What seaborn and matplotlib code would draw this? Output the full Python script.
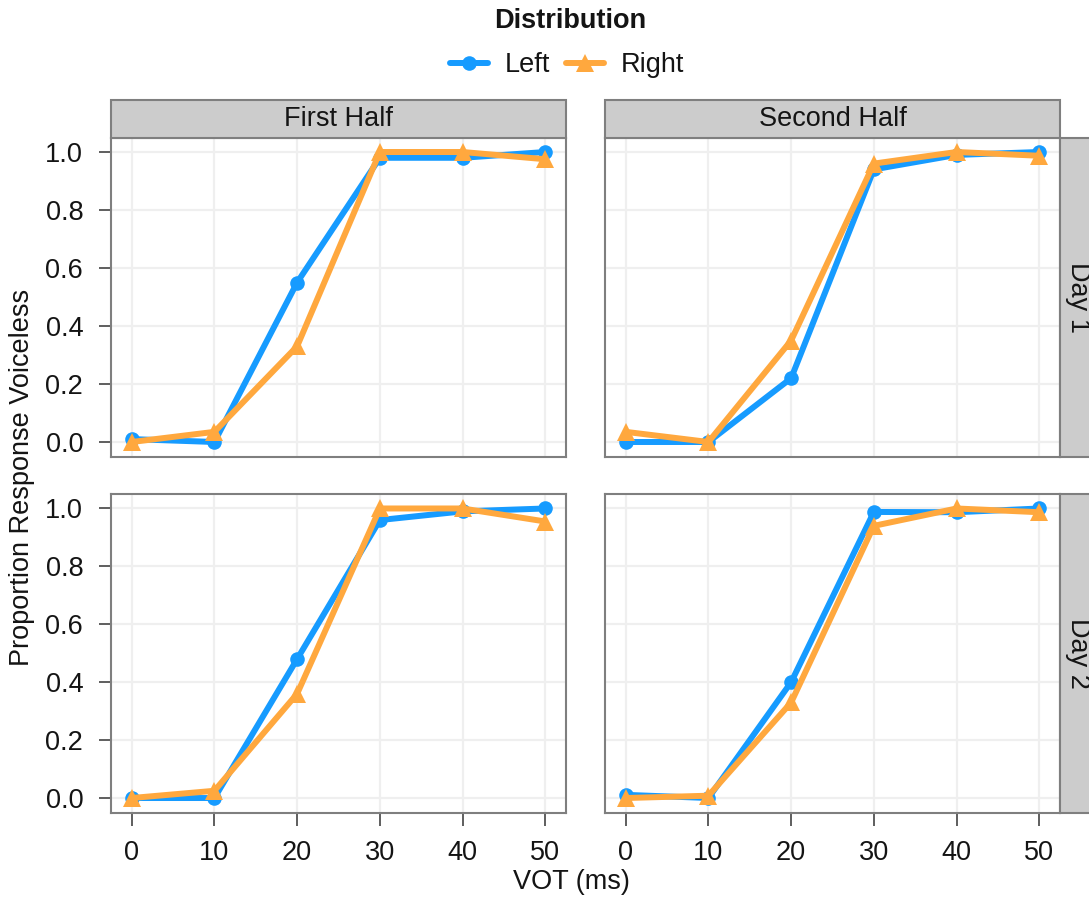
import matplotlib
matplotlib.use("Agg")
import matplotlib.pyplot as plt
from matplotlib.patches import Rectangle
from matplotlib.lines import Line2D
import seaborn as sns
import pandas as pd

# ---------------- data ----------------
vot = [0, 10, 20, 30, 40, 50]
distributions = ["Left", "Right"]
halves = ["First Half", "Second Half"]
days = ["Day 1", "Day 2"]

day1_first_left = [0.01, 0.0, 0.55, 0.98, 0.98, 1.0]
day1_first_right = [0.0, 0.035, 0.33, 1.0, 1.0, 0.975]
day1_second_left = [0.0, 0.0, 0.22, 0.94, 0.99, 1.0]
day1_second_right = [0.035, 0.0, 0.35, 0.96, 1.0, 0.987]
day2_first_left = [0.0, 0.0, 0.48, 0.96, 0.99, 1.0]
day2_first_right = [0.0, 0.025, 0.36, 1.0, 1.0, 0.955]
day2_second_left = [0.011, 0.0, 0.40, 0.988, 0.987, 1.0]
day2_second_right = [0.0, 0.008, 0.33, 0.94, 1.0, 0.987]

series = {
    ("Day 1", "First Half", "Left"): day1_first_left,
    ("Day 1", "First Half", "Right"): day1_first_right,
    ("Day 1", "Second Half", "Left"): day1_second_left,
    ("Day 1", "Second Half", "Right"): day1_second_right,
    ("Day 2", "First Half", "Left"): day2_first_left,
    ("Day 2", "First Half", "Right"): day2_first_right,
    ("Day 2", "Second Half", "Left"): day2_second_left,
    ("Day 2", "Second Half", "Right"): day2_second_right,
}

rows = []
for (d, h, dist), vals in series.items():
    for x, y in zip(vot, vals):
        rows.append({"Day": d, "Half": h, "Distribution": dist, "VOT": x, "Prop": y})
df = pd.DataFrame(rows)

# ---------------- style ----------------
sns.set_theme(style="white")
plt.rcParams["font.family"] = ["Liberation Sans", "DejaVu Sans"]

palette = {"Left": "#169BFF", "Right": "#FFA83E"}
markers = {"Left": "o", "Right": "^"}
msizes = {"Left": 10.5, "Right": 12.5}
lw = 4.3
border = "#7f7f7f"
strip_fill = "#cccccc"
grid_col = "#efefef"
txt = "#141414"
fs = 19.5

W, H = 1089, 900
fig = plt.figure(figsize=(W / 100, H / 100), dpi=100)

lefts = {"First Half": 111, "Second Half": 605}
tops = {"Day 1": (137.5, 456.5), "Day 2": (494.0, 812.5)}
panel_w = 455

for d in days:
    for h in halves:
        t, b = tops[d]
        ax = fig.add_axes([lefts[h] / W, 1 - b / H, panel_w / W, (b - t) / H])
        sub = df[(df.Day == d) & (df.Half == h)]
        for dist in distributions:
            s = sub[sub.Distribution == dist]
            sns.lineplot(data=s, x="VOT", y="Prop", ax=ax, color=palette[dist],
                         marker=markers[dist], markersize=msizes[dist],
                         markeredgewidth=0, linewidth=lw, legend=False, zorder=3)
        ax.set_xlim(-2.5, 52.5)
        ax.set_ylim(-0.05, 1.05)
        ax.set_xticks(vot)
        ax.set_yticks([0, 0.2, 0.4, 0.6, 0.8, 1.0])
        ax.set_yticklabels(["0.0", "0.2", "0.4", "0.6", "0.8", "1.0"])
        ax.grid(True, color=grid_col, linewidth=1.6, zorder=0)
        ax.set_axisbelow(True)
        for sp in ax.spines.values():
            sp.set_color(border)
            sp.set_linewidth(1.5)
        ax.set_xlabel("")
        ax.set_ylabel("")
        ax.tick_params(length=9, width=1.1, color="#333333", pad=11,
                       labelsize=fs, labelcolor=txt)
        show_x = d == "Day 2"
        show_y = h == "First Half"
        ax.tick_params(axis="x", bottom=show_x, labelbottom=show_x)
        ax.tick_params(axis="y", left=show_y, labelleft=show_y)

        # top strip
        if d == "Day 1":
            sh = 37 / (b - t)
            ax.add_patch(Rectangle((0, 1.0), 1, sh, transform=ax.transAxes,
                                   facecolor=strip_fill, edgecolor=border,
                                   linewidth=1.5, clip_on=False, zorder=5))
            ax.text(0.5, 1 + sh / 2, h, transform=ax.transAxes, ha="center",
                    va="center", fontsize=fs, color=txt, zorder=6)
        # right strip
        if h == "Second Half":
            sw = 40 / panel_w
            ax.add_patch(Rectangle((1.0, 0), sw, 1, transform=ax.transAxes,
                                   facecolor=strip_fill, edgecolor=border,
                                   linewidth=1.5, clip_on=False, zorder=5))
            ax.text(1 + 18 / panel_w, 0.5, d, transform=ax.transAxes, ha="center",
                    va="center", rotation=-90, fontsize=fs, color=txt, zorder=6)

# axis labels
fig.text(22 / W, 1 - 477 / H, "Proportion Response Voiceless", rotation=90,
         ha="center", va="center", fontsize=fs, color=txt)
fig.text(571 / W, 1 - 882 / H, "VOT (ms)", ha="center", va="center",
         fontsize=fs, color=txt)

# legend
fig.text(570 / W, 1 - 21 / H, "Distribution", ha="center", va="center",
         fontsize=fs, fontweight="bold", color=txt)
handles = [Line2D([], [], color=palette[k], marker=markers[k], markersize=msizes[k],
                  markeredgewidth=0, linewidth=lw) for k in distributions]
fig.legend(handles, distributions, loc="center", bbox_to_anchor=(567 / W, 1 - 65 / H),
           ncol=2, frameon=False, fontsize=fs, handlelength=1.4, handletextpad=0.6,
           columnspacing=0.6, borderpad=0, borderaxespad=0, labelcolor=txt)

fig.savefig("out.png", dpi=100)
